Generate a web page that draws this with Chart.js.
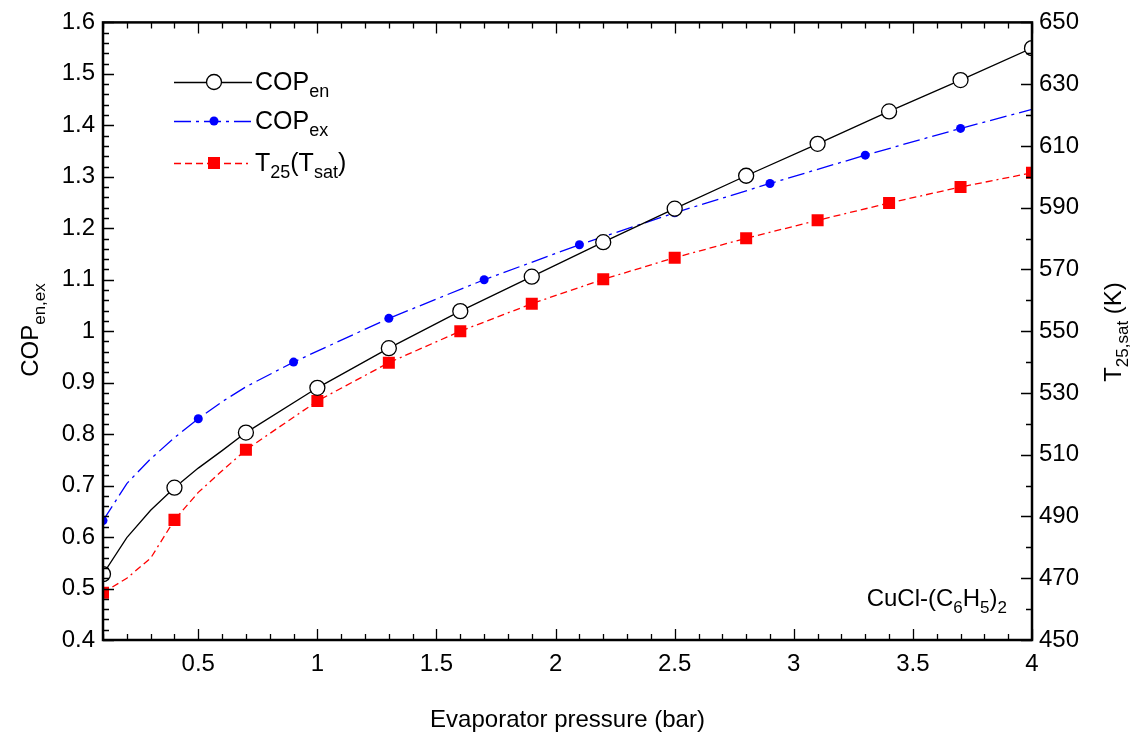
<!DOCTYPE html>
<html>
<head>
<meta charset="utf-8">
<script src="https://cdn.jsdelivr.net/npm/chart.js@4.4.1/dist/chart.umd.min.js"></script>
<style>
  html, body { margin: 0; padding: 0; background: #fff; }
</style>
</head>
<body>
<canvas id="copChart" width="1136" height="736"></canvas>
<script>
// evaporator pressure (bar) and values
const enX = [0.1, 0.2, 0.3, 0.4, 0.5, 0.6, 0.7, 1.0, 1.3, 1.6, 1.9, 2.2, 2.5, 2.8, 3.1, 3.4, 3.7, 4.0];
const enY = [0.528, 0.599, 0.652, 0.696, 0.734, 0.768, 0.803, 0.890, 0.967, 1.039, 1.106, 1.173, 1.238, 1.302, 1.364, 1.427, 1.488, 1.550];
const enMarks = [0.1, 0.4, 0.7, 1.0, 1.3, 1.6, 1.9, 2.2, 2.5, 2.8, 3.1, 3.4, 3.7, 4.0];

const exX = [0.1, 0.2, 0.3, 0.4, 0.5, 0.6, 0.7, 0.9, 1.3, 1.7, 2.1, 2.5, 2.9, 3.3, 3.7, 4.0];
const exY = [0.632, 0.704, 0.752, 0.793, 0.830, 0.863, 0.892, 0.940, 1.025, 1.100, 1.168, 1.230, 1.287, 1.342, 1.394, 1.431];
const exMarks = [0.1, 0.5, 0.9, 1.3, 1.7, 2.1, 2.5, 2.9, 3.3, 3.7];

const tX = [0.1, 0.2, 0.3, 0.4, 0.5, 0.6, 0.7, 1.0, 1.3, 1.6, 1.9, 2.2, 2.5, 2.8, 3.1, 3.4, 3.7, 4.0];
const tY = [465.3, 470.0, 476.5, 488.9, 497.8, 504.8, 511.6, 527.4, 539.8, 550.0, 558.9, 566.8, 573.8, 580.1, 585.9, 591.5, 596.7, 601.3];
const tMarks = [0.1, 0.4, 0.7, 1.0, 1.3, 1.6, 1.9, 2.2, 2.5, 2.8, 3.1, 3.4, 3.7, 4.0];

const xTicks = [0.5, 1, 1.5, 2, 2.5, 3, 3.5, 4];
const copTicks = [0.4, 0.5, 0.6, 0.7, 0.8, 0.9, 1, 1.1, 1.2, 1.3, 1.4, 1.5, 1.6];
const tempTicks = [450, 470, 490, 510, 530, 550, 570, 590, 610, 630, 650];

const FONT = "'Liberation Sans', Arial, sans-serif";
Chart.defaults.font.family = FONT;
Chart.defaults.color = '#000';

const BLUE_DASH = [17, 5, 3, 5];
const RED_DASH = [7, 4, 7, 4, 7, 4, 2, 4];

function pts(xs, ys) {
  return xs.map((x, i) => ({ x: x, y: ys[i] }));
}
function isMark(list, x) {
  return list.some(m => Math.abs(m - x) < 1e-6);
}

// text with subscripts: parts = [[text, isSub], ...]
function richWidth(ctx, parts, size, subSize) {
  let w = 0;
  parts.forEach(p => {
    ctx.font = (p[1] ? subSize : size) + 'px ' + FONT;
    w += ctx.measureText(p[0]).width;
  });
  return w;
}
function drawRich(ctx, parts, x, y, size, subSize, align) {
  const w = richWidth(ctx, parts, size, subSize);
  let cx = align === 'center' ? x - w / 2 : (align === 'right' ? x - w : x);
  ctx.textAlign = 'left';
  ctx.textBaseline = 'alphabetic';
  ctx.fillStyle = '#000';
  parts.forEach(p => {
    ctx.font = (p[1] ? subSize : size) + 'px ' + FONT;
    ctx.fillText(p[0], cx, p[1] ? y + 7 : y);
    cx += ctx.measureText(p[0]).width;
  });
}

const frameTicks = {
  id: 'frameTicks',
  afterDatasetsDraw(chart) {
    const ctx = chart.ctx;
    const a = chart.chartArea;
    const sx = chart.scales.x, sy = chart.scales.y, st = chart.scales.y2;
    ctx.save();
    ctx.strokeStyle = '#000';
    ctx.lineWidth = 1.3;
    ctx.beginPath();
    // x ticks every 0.1, major every 0.5
    for (let i = 1; i <= 40; i++) {
      const v = i / 10;
      const px = Math.round(sx.getPixelForValue(v)) + 0.5;
      const len = (i % 5 === 0) ? 11 : 6;
      ctx.moveTo(px, a.bottom); ctx.lineTo(px, a.bottom - len);
      ctx.moveTo(px, a.top); ctx.lineTo(px, a.top + len);
    }
    // left ticks every 0.02, major every 0.1
    for (let i = 20; i <= 80; i++) {
      const py = Math.round(sy.getPixelForValue(i / 50)) + 0.5;
      const len = (i % 5 === 0) ? 11 : 6;
      ctx.moveTo(a.left, py); ctx.lineTo(a.left + len, py);
    }
    // right ticks every 10 K, major every 20
    for (let v = 450; v <= 650; v += 10) {
      const py = Math.round(st.getPixelForValue(v)) + 0.5;
      const len = ((v - 450) % 20 === 0) ? 11 : 6;
      ctx.moveTo(a.right, py); ctx.lineTo(a.right - len, py);
    }
    ctx.stroke();
    ctx.lineWidth = 2.5;
    ctx.strokeRect(a.left, a.top, a.right - a.left, a.bottom - a.top);
    ctx.restore();
  },
  afterDraw(chart) {
    const ctx = chart.ctx;
    const a = chart.chartArea;
    ctx.save();
    // axis titles
    drawRich(ctx, [['Evaporator pressure (bar)', false]], (a.left + a.right) / 2, 727, 24, 17, 'center');
    ctx.save();
    ctx.translate(38, 330);
    ctx.rotate(-Math.PI / 2);
    drawRich(ctx, [['COP', false], ['en,ex', true]], 0, 0, 24, 17, 'center');
    ctx.restore();
    ctx.save();
    ctx.translate(1121, 332);
    ctx.rotate(-Math.PI / 2);
    drawRich(ctx, [['T', false], ['25,sat', true], [' (K)', false]], 0, 0, 24, 17, 'center');
    ctx.restore();
    // note
    drawRich(ctx, [['CuCl-(C', false], ['6', true], ['H', false], ['5', true], [')', false], ['2', true]],
      1007, 606, 24, 17, 'right');

    // legend
    const rows = [
      { y: 82, parts: [['COP', false], ['en', true]], color: '#000', dash: [], kind: 'circle' },
      { y: 121, parts: [['COP', false], ['ex', true]], color: '#0000ff', dash: BLUE_DASH, kind: 'dot' },
      { y: 163, parts: [['T', false], ['25', true], ['(T', false], ['sat', true], [')', false]], color: '#ff0000', dash: RED_DASH, kind: 'square' }
    ];
    rows.forEach(r => {
      ctx.strokeStyle = r.color;
      ctx.lineWidth = 1.3;
      ctx.setLineDash(r.dash);
      ctx.beginPath();
      ctx.moveTo(174, r.y + 0.5);
      ctx.lineTo(252, r.y + 0.5);
      ctx.stroke();
      ctx.setLineDash([]);
      if (r.kind === 'circle') {
        ctx.fillStyle = '#fff';
        ctx.beginPath();
        ctx.arc(214, r.y, 7.5, 0, Math.PI * 2);
        ctx.fill();
        ctx.stroke();
      } else if (r.kind === 'dot') {
        ctx.fillStyle = r.color;
        ctx.beginPath();
        ctx.arc(214, r.y, 4.5, 0, Math.PI * 2);
        ctx.fill();
      } else {
        ctx.fillStyle = r.color;
        ctx.fillRect(208, r.y - 6, 12, 12);
      }
      drawRich(ctx, r.parts, 255, r.y + 8, 25, 18, 'left');
    });
    ctx.restore();
  }
};

const ctx = document.getElementById('copChart').getContext('2d');

const copChart = new Chart(ctx, {
  type: 'line',
  data: {
    datasets: [
      {
        label: 'COPen',
        data: pts(enX, enY),
        yAxisID: 'y',
        borderColor: '#000',
        borderWidth: 1.3,
        pointStyle: 'circle',
        pointBackgroundColor: '#fff',
        pointBorderColor: '#000',
        pointBorderWidth: 1.3,
        pointRadius: c => isMark(enMarks, c.raw.x) ? 7.5 : 0,
        tension: 0,
        clip: 0,
      },
      {
        label: 'COPex',
        data: pts(exX, exY),
        yAxisID: 'y',
        borderColor: '#0000ff',
        borderWidth: 1.3,
        borderDash: BLUE_DASH,
        pointStyle: 'circle',
        pointBackgroundColor: '#0000ff',
        pointBorderColor: '#0000ff',
        pointBorderWidth: 0,
        pointRadius: c => isMark(exMarks, c.raw.x) ? 4.5 : 0,
        tension: 0,
        clip: 0,
      },
      {
        label: 'T25(Tsat)',
        data: pts(tX, tY),
        yAxisID: 'y2',
        borderColor: '#ff0000',
        borderWidth: 1.3,
        borderDash: RED_DASH,
        pointStyle: 'rect',
        pointBackgroundColor: '#ff0000',
        pointBorderColor: '#ff0000',
        pointBorderWidth: 0,
        pointRadius: c => isMark(tMarks, c.raw.x) ? 8.5 : 0,
        tension: 0,
        clip: 0,
      },
    ]
  },
  options: {
    responsive: false,
    devicePixelRatio: 1,
    animation: false,
    layout: { padding: { top: 20, left: 0, right: 0, bottom: 0 } },
    plugins: {
      legend: { display: false },
      tooltip: { enabled: false },
    },
    scales: {
      x: {
        type: 'linear',
        min: 0.1,
        max: 4,
        afterBuildTicks: s => { s.ticks = xTicks.map(v => ({ value: v })); },
        afterFit: s => { s.height = 96; },
        grid: { display: false, drawTicks: false },
        border: { display: false },
        ticks: {
          padding: 10,
          maxRotation: 0,
          font: { size: 24 },
          color: '#000',
          callback: v => String(+v.toFixed(1)),
        },
      },
      y: {
        position: 'left',
        min: 0.4,
        max: 1.6,
        afterBuildTicks: s => { s.ticks = copTicks.map(v => ({ value: v })); },
        afterFit: s => { s.width = 103; },
        grid: { display: false, drawTicks: false },
        border: { display: false },
        ticks: {
          padding: 8,
          font: { size: 24 },
          color: '#000',
          callback: v => String(+v.toFixed(1)),
        },
      },
      y2: {
        position: 'right',
        min: 450,
        max: 650,
        afterBuildTicks: s => { s.ticks = tempTicks.map(v => ({ value: v })); },
        afterFit: s => { s.width = 104; },
        grid: { display: false, drawTicks: false },
        border: { display: false },
        ticks: {
          padding: 7,
          font: { size: 24 },
          color: '#000',
        },
      },
    },
  },
  plugins: [frameTicks],
});
</script>
</body>
</html>
